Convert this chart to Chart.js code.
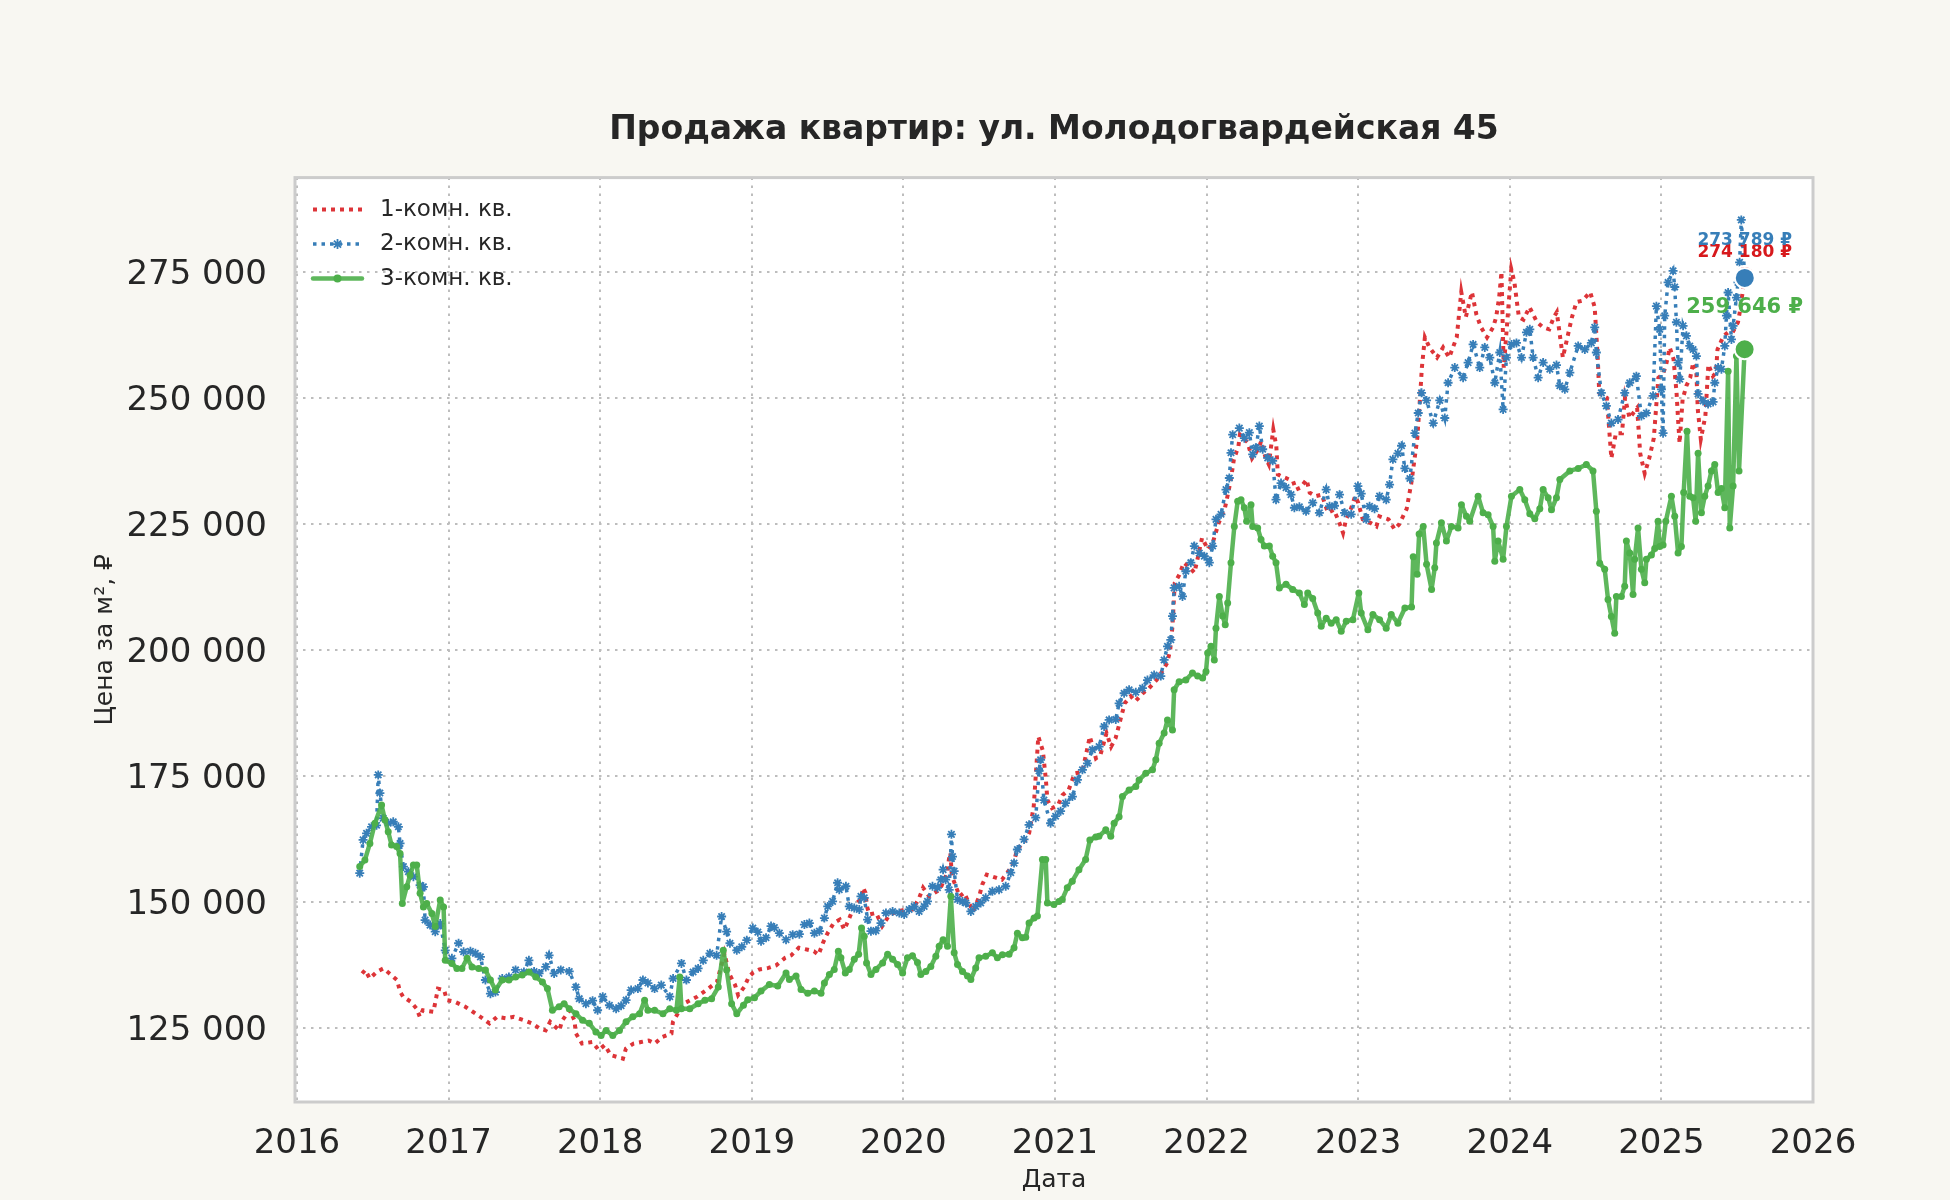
<!DOCTYPE html>
<html>
<head>
<meta charset="utf-8">
<script src="https://cdn.jsdelivr.net/npm/chart.js@4.4.1/dist/chart.umd.min.js"></script>
<style>
  html, body { margin: 0; padding: 0; background: #f8f7f2; }
  canvas { display: block; }
</style>
</head>
<body>
<canvas id="myChart" width="1950" height="1200"></canvas>
<script>
// 1-комн. кв. (годы / тыс. ₽ за м²)
const oneYears = [2016.43,2016.45,2016.48,2016.53,2016.57,2016.61,2016.66,2016.68,2016.70,2016.75,2016.79,2016.81,2016.83,2016.90,2016.93,2016.97,2016.99,
  2017.04,2017.11,2017.16,2017.21,2017.27,2017.32,2017.38,2017.43,2017.50,2017.55,2017.60,2017.64,2017.67,2017.73,2017.75,2017.80,2017.83,2017.84,2017.88,2017.95,2017.99,
  2018.03,2018.07,2018.15,2018.17,2018.22,2018.27,2018.32,2018.36,2018.41,2018.47,2018.48,2018.55,2018.64,2018.70,2018.77,2018.82,2018.85,2018.89,2018.91,2018.95,2018.98,
  2019.01,2019.05,2019.11,2019.16,2019.22,2019.26,2019.31,2019.37,2019.41,2019.44,2019.47,2019.50,2019.54,2019.58,2019.61,2019.64,2019.68,2019.72,2019.735,2019.75,2019.76,2019.775,2019.82,2019.86,2019.91,2019.96,
  2020.02,2020.06,2020.10,2020.13,2020.17,2020.19,2020.24,2020.29,2020.30,2020.31,2020.32,2020.35,2020.37,2020.40,2020.46,2020.50,2020.52,2020.55,2020.61,2020.65,2020.70,2020.73,2020.75,2020.79,2020.83,2020.86,
  2020.89,2020.92,2020.94,2020.95,2020.98,2021.02,2021.05,2021.09,2021.13,2021.18,2021.23,2021.27,2021.30,2021.34,2021.37,2021.40,2021.42,2021.46,2021.50,2021.53,2021.58,2021.62,2021.67,2021.70,2021.74,2021.76,2021.775,2021.79,
  2021.82,2021.85,2021.89,2021.92,2021.94,2021.97,2022.01,2022.04,2022.06,2022.08,2022.12,2022.14,2022.16,2022.18,2022.21,2022.22,2022.25,2022.27,2022.30,2022.34,2022.36,2022.39,2022.41,2022.44,2022.46,2022.47,2022.49,
  2022.57,2022.59,2022.62,2022.66,2022.68,2022.72,2022.76,2022.80,2022.84,2022.88,2022.90,2022.92,2022.95,2022.98,2023.00,2023.03,2023.08,2023.12,2023.14,2023.20,2023.24,2023.27,
  2023.32,2023.35,2023.39,2023.41,2023.42,2023.44,2023.47,2023.52,2023.56,2023.60,2023.65,2023.68,2023.71,2023.75,2023.78,2023.81,2023.85,2023.89,2023.91,2023.93,2023.945,2023.96,
  2024.01,2024.03,2024.06,2024.09,2024.13,2024.18,2024.22,2024.26,2024.29,2024.31,2024.35,2024.41,2024.44,2024.48,2024.53,2024.56,2024.58,2024.59,2024.64,2024.67,2024.70,2024.74,2024.76,2024.79,2024.84,2024.86,2024.89,2024.92,2024.95,2024.98,
  2025.01,2025.03,2025.055,2025.08,2025.10,2025.11,2025.12,2025.14,2025.165,2025.19,2025.21,2025.23,2025.24,2025.26,2025.29,2025.31,2025.34,2025.36,2025.37,2025.41,2025.44,2025.47,2025.505,2025.52,2025.55];
const oneVals = [135.8,136.5,134.8,136.2,136.8,135.8,134.5,132.2,131.2,130.2,128.8,127.2,128.5,128.2,132.8,132.5,130.5,
  130.2,129.2,128.2,127.2,125.9,127.2,126.9,127.2,126.5,125.9,124.9,124.5,126.2,124.5,126.5,128.5,126.5,123.9,121.9,122.2,120.6,
  121.6,119.6,118.9,120.9,121.9,122.2,122.5,121.9,123.2,123.9,126.2,129.8,131.2,132.5,134.1,139.8,135.8,133.5,131.5,133.1,135.1,
  136.0,136.6,136.9,137.4,138.9,139.4,140.9,140.5,140.2,139.5,141.9,143.8,145.8,146.5,144.5,146.5,149.5,150.5,152.8,151.8,149.1,147.5,147.8,145.2,147.5,148.1,
  148.5,148.5,150.5,152.8,151.1,151.5,152.4,155.8,158.4,159.7,155.1,152.8,151.1,151.8,148.1,151.1,153.4,155.4,154.8,154.4,156.4,158.1,160.4,161.7,163.7,169.0,
  182.8,180.0,174.2,170.2,168.6,169.2,171.2,172.2,175.5,175.8,182.8,178.5,179.2,183.5,180.8,182.5,184.8,189.4,190.8,189.8,191.4,192.4,194.0,195.4,197.4,200.0,204.7,213.3,
  214.9,217.3,216.3,215.3,218.0,222.2,219.9,221.2,223.2,225.2,228.0,230.8,233.8,237.8,240.4,242.7,241.8,241.2,238.0,239.8,241.4,238.0,236.8,243.7,240.4,234.8,234.5,
  233.5,231.8,232.2,233.8,231.2,230.5,230.8,227.2,227.8,224.9,223.2,225.9,227.8,230.5,229.2,225.9,225.2,224.5,226.5,225.9,223.9,224.9,
  228.0,233.0,242.0,251.0,256.0,262.0,260.0,258.0,260.0,258.0,262.0,271.0,266.0,271.0,266.5,264.0,262.0,264.0,266.0,270.0,275.0,256.0,
  275.5,273.0,266.0,265.5,268.0,265.0,264.0,263.6,266.0,267.0,258.0,266.0,269.0,269.3,271.0,268.0,258.0,251.0,250.0,238.0,243.0,243.0,250.0,246.0,248.0,239.0,235.0,238.0,242.0,254.0,
  254.7,256.4,260.0,257.7,251.0,245.7,241.0,249.7,252.4,254.0,257.0,255.7,247.7,241.8,246.4,256.6,254.3,255.0,259.6,262.3,263.0,263.0,265.0,267.5,274.18];

// 2-комн. кв.
const twoYears = [2016.414,2016.436,2016.459,2016.492,2016.525,2016.536,2016.547,2016.569,2016.602,2016.635,2016.669,2016.680,2016.702,2016.735,2016.768,2016.812,2016.834,2016.845,2016.878,2016.912,2016.945,2016.978,
  2017.022,2017.066,2017.099,2017.144,2017.177,2017.210,2017.243,2017.276,2017.309,2017.354,2017.398,2017.442,2017.497,2017.530,2017.564,2017.597,2017.641,2017.663,2017.696,2017.740,2017.796,2017.840,2017.862,2017.906,2017.950,2017.983,
  2018.017,2018.061,2018.105,2018.138,2018.171,2018.204,2018.249,2018.282,2018.315,2018.359,2018.403,2018.459,2018.481,2018.536,2018.569,2018.613,2018.646,2018.680,2018.724,2018.768,2018.801,2018.834,2018.856,2018.901,2018.934,2018.967,
  2019.007,2019.040,2019.061,2019.094,2019.127,2019.149,2019.182,2019.226,2019.270,2019.314,2019.347,2019.380,2019.413,2019.446,2019.479,2019.501,2019.533,2019.566,2019.577,2019.621,2019.643,2019.676,2019.709,2019.720,2019.742,2019.764,2019.786,2019.819,2019.852,2019.885,2019.929,2019.973,
  2020.005,2020.038,2020.071,2020.104,2020.137,2020.159,2020.192,2020.225,2020.247,2020.262,2020.279,2020.302,2020.317,2020.324,2020.335,2020.357,2020.390,2020.412,2020.445,2020.477,2020.510,2020.543,2020.587,2020.631,2020.675,2020.708,2020.730,2020.752,2020.796,2020.829,2020.873,2020.895,2020.905,2020.927,2020.971,
  2021.004,2021.037,2021.070,2021.115,2021.148,2021.181,2021.214,2021.247,2021.291,2021.324,2021.357,2021.401,2021.423,2021.456,2021.489,2021.533,2021.577,2021.610,2021.654,2021.698,2021.720,2021.742,2021.764,2021.775,2021.786,2021.819,2021.841,2021.863,2021.896,2021.919,2021.952,2021.985,
  2022.018,2022.040,2022.062,2022.095,2022.128,2022.150,2022.161,2022.172,2022.216,2022.249,2022.282,2022.304,2022.326,2022.348,2022.370,2022.403,2022.436,2022.458,2022.491,2022.524,2022.557,2022.579,2022.612,2022.656,2022.700,2022.744,2022.789,2022.811,2022.844,2022.877,2022.910,2022.954,2022.998,
  2023.020,2023.053,2023.075,2023.108,2023.141,2023.185,2023.207,2023.229,2023.262,2023.286,2023.308,2023.341,2023.374,2023.396,2023.418,2023.451,2023.495,2023.538,2023.571,2023.593,2023.637,2023.692,2023.725,2023.758,2023.802,2023.835,2023.868,2023.901,2023.934,2023.956,2023.978,
  2024.011,2024.044,2024.077,2024.110,2024.132,2024.154,2024.187,2024.220,2024.264,2024.308,2024.330,2024.363,2024.396,2024.451,2024.495,2024.538,2024.560,2024.571,2024.604,2024.637,2024.670,2024.714,2024.758,2024.791,2024.835,2024.868,2024.901,2024.945,2024.967,2024.989,
  2025.000,2025.011,2025.022,2025.044,2025.077,2025.088,2025.099,2025.110,2025.121,2025.143,2025.165,2025.187,2025.209,2025.231,2025.242,2025.275,2025.308,2025.341,2025.352,2025.374,2025.396,2025.418,2025.429,2025.440,2025.462,2025.473,2025.495,2025.505,2025.516,2025.527,2025.550];
const twoVals = [155.7,162.3,163.6,164.9,165.2,175.2,171.6,166.6,165.6,165.9,164.9,161.6,157.0,156.0,155.0,153.3,153.0,146.4,145.4,144.1,145.7,140.4,
  138.8,141.8,140.1,140.2,139.8,139.1,134.5,131.8,132.1,134.8,135.1,136.5,136.1,138.4,136.2,135.8,137.1,139.4,135.8,136.5,136.2,133.1,130.8,129.8,130.4,128.5,
  131.2,129.5,128.8,129.4,130.5,132.5,132.8,134.5,133.9,132.8,133.5,131.2,134.8,137.8,134.5,136.1,136.8,138.4,139.8,139.4,147.1,144.1,141.8,140.4,141.1,142.4,
  144.8,144.0,142.2,142.9,145.2,144.9,143.8,142.5,143.5,143.6,145.5,145.8,143.8,144.2,146.8,149.1,150.1,153.8,152.4,153.1,149.1,148.8,148.5,151.1,150.8,146.5,144.2,144.3,145.8,147.8,148.1,147.8,
  147.5,148.5,149.1,148.1,149.1,150.1,153.1,152.8,154.4,156.4,154.4,152.4,163.4,159.0,156.1,150.5,150.1,149.8,148.1,149.1,149.8,150.8,152.1,152.4,153.1,155.8,157.7,160.4,162.4,165.3,166.7,176.0,178.2,170.2,165.6,
  167.0,168.0,169.6,170.9,174.2,176.2,177.5,180.2,180.8,184.8,186.1,186.2,189.4,191.4,192.1,191.6,192.4,194.0,195.0,194.8,198.0,200.7,202.0,206.7,212.3,212.6,210.6,215.6,217.3,220.6,219.2,218.6,
  217.3,220.6,225.9,226.9,231.8,234.1,239.1,242.7,244.0,242.0,243.1,238.8,240.1,244.4,239.8,238.1,237.5,229.8,233.1,232.2,230.8,228.2,228.4,227.5,229.2,227.2,231.8,228.5,228.6,230.8,227.2,226.9,232.5,
  231.0,225.9,228.5,228.0,230.5,229.8,232.8,237.8,239.0,240.5,236.0,234.0,243.0,247.0,251.0,249.5,245.0,249.5,246.0,253.0,256.0,254.0,257.0,260.6,256.0,260.0,258.0,253.0,259.0,247.7,258.0,
  260.6,260.9,258.0,263.0,263.6,258.0,254.0,257.0,255.7,256.5,252.4,251.7,255.0,260.3,259.6,260.9,264.0,259.0,251.0,248.4,245.0,245.7,251.0,253.0,254.3,246.4,247.0,250.4,268.2,263.6,
  251.7,243.0,266.3,272.9,275.2,272.0,265.0,257.0,253.7,264.3,262.3,260.3,259.6,258.3,250.8,249.4,248.8,249.2,253.0,256.0,255.7,260.3,266.3,270.9,261.6,264.3,269.9,272.9,276.9,285.3,273.789];

// 3-комн. кв.
const threeYears = [2016.414,2016.448,2016.481,2016.514,2016.558,2016.580,2016.602,2016.624,2016.657,2016.680,2016.695,2016.724,2016.746,2016.768,2016.790,2016.812,2016.834,2016.856,2016.890,2016.912,2016.945,2016.967,2016.978,
  2017.022,2017.055,2017.088,2017.122,2017.155,2017.199,2017.243,2017.276,2017.309,2017.354,2017.398,2017.442,2017.486,2017.530,2017.575,2017.619,2017.652,2017.685,2017.729,2017.762,2017.796,2017.840,2017.884,2017.928,2017.972,
  2018.006,2018.039,2018.083,2018.127,2018.171,2018.215,2018.260,2018.293,2018.315,2018.359,2018.414,2018.459,2018.503,2018.525,2018.536,2018.591,2018.646,2018.691,2018.735,2018.779,2018.812,2018.834,2018.867,2018.901,2018.945,2018.974,
  2019.018,2019.061,2019.116,2019.171,2019.226,2019.248,2019.292,2019.325,2019.369,2019.413,2019.457,2019.479,2019.512,2019.544,2019.571,2019.588,2019.617,2019.643,2019.676,2019.705,2019.724,2019.742,2019.757,2019.786,2019.819,2019.863,2019.896,2019.929,2019.962,2019.995,
  2020.027,2020.060,2020.093,2020.115,2020.148,2020.181,2020.214,2020.236,2020.262,2020.291,2020.313,2020.335,2020.357,2020.390,2020.423,2020.445,2020.477,2020.499,2020.543,2020.587,2020.620,2020.653,2020.697,2020.730,2020.752,2020.785,2020.807,2020.829,2020.862,2020.884,2020.917,2020.939,2020.950,2020.993,
  2021.026,2021.048,2021.081,2021.114,2021.158,2021.202,2021.230,2021.269,2021.290,2021.335,2021.368,2021.390,2021.423,2021.445,2021.489,2021.533,2021.555,2021.599,2021.643,2021.665,2021.687,2021.720,2021.742,2021.775,2021.786,2021.819,2021.863,2021.907,2021.941,2021.974,2021.996,
  2022.007,2022.029,2022.051,2022.062,2022.084,2022.106,2022.123,2022.139,2022.161,2022.183,2022.205,2022.227,2022.249,2022.264,2022.293,2022.304,2022.337,2022.359,2022.381,2022.414,2022.436,2022.458,2022.480,2022.524,2022.568,2022.612,2022.645,2022.667,2022.700,2022.733,2022.756,2022.789,2022.822,2022.855,2022.888,2022.921,2022.965,
  2023.004,2023.020,2023.064,2023.097,2023.141,2023.185,2023.218,2023.262,2023.308,2023.352,2023.363,2023.389,2023.402,2023.429,2023.451,2023.484,2023.505,2023.516,2023.549,2023.582,2023.615,2023.659,2023.681,2023.714,2023.736,2023.791,2023.824,2023.857,2023.890,2023.901,2023.923,2023.956,2023.978,
  2024.011,2024.066,2024.099,2024.132,2024.165,2024.198,2024.220,2024.253,2024.275,2024.308,2024.330,2024.396,2024.451,2024.505,2024.549,2024.571,2024.593,2024.626,2024.648,2024.670,2024.692,2024.703,2024.736,2024.758,2024.769,2024.791,2024.813,2024.824,2024.846,2024.868,2024.890,2024.901,2024.934,2024.956,2024.978,2024.989,
  2025.011,2025.029,2025.066,2025.088,2025.110,2025.132,2025.147,2025.169,2025.187,2025.209,2025.226,2025.242,2025.264,2025.286,2025.308,2025.330,2025.352,2025.374,2025.396,2025.418,2025.440,2025.451,2025.473,2025.495,2025.512,2025.549];
const threeVals = [157.0,158.3,161.6,165.6,169.2,166.3,163.9,161.3,161.0,159.6,149.7,153.0,155.3,157.3,157.3,151.7,149.0,149.7,147.7,145.1,150.4,149.0,138.4,
  137.8,136.8,136.8,138.8,137.1,136.8,136.5,134.5,132.5,134.5,134.5,135.1,135.5,136.1,135.1,134.1,132.8,128.5,129.2,129.8,128.8,127.8,126.5,125.9,124.2,
  123.5,124.5,123.5,124.5,126.2,127.2,127.8,130.5,128.5,128.5,127.8,128.8,128.5,135.1,128.8,128.8,129.8,130.5,130.8,133.1,140.4,136.5,129.8,127.8,129.5,130.6,
  131.0,132.3,133.6,133.3,135.9,134.6,135.3,132.6,131.9,132.3,131.9,133.9,135.6,136.6,140.2,138.9,135.9,136.6,138.6,139.6,144.8,143.2,137.9,135.6,136.6,137.9,139.6,138.6,137.6,135.9,
  138.9,139.3,138.0,135.6,136.2,137.2,139.2,141.2,142.5,141.2,151.1,139.9,137.6,136.2,135.3,134.6,136.9,138.9,139.2,139.9,138.9,139.5,139.6,140.9,143.8,142.9,143.0,145.8,146.8,147.2,158.4,158.4,149.8,149.5,
  150.1,150.5,152.8,154.1,156.4,158.4,162.3,162.9,163.0,164.3,163.0,165.6,166.9,170.9,172.2,172.9,174.2,175.5,176.2,178.2,181.5,183.5,186.1,184.1,192.1,193.7,194.0,195.4,194.8,194.4,195.7,
  199.4,200.7,198.0,204.3,210.6,206.7,205.0,209.3,217.3,224.5,229.5,229.8,228.2,225.5,228.8,224.5,224.2,221.9,220.6,220.6,218.6,217.3,212.3,213.0,212.0,211.3,209.0,211.3,210.2,207.3,204.7,206.3,205.3,206.0,203.7,205.7,206.0,
  211.3,207.3,204.0,207.0,206.0,204.3,207.0,205.3,208.3,208.5,218.5,215.0,223.0,224.5,217.0,212.0,216.3,221.2,225.2,221.6,224.5,224.2,228.8,226.5,225.5,230.5,227.2,226.8,224.5,217.6,221.6,218.0,224.5,
  230.5,231.8,229.8,227.0,226.0,228.0,231.8,230.2,227.8,230.2,233.8,235.5,236.0,236.8,235.5,227.5,217.2,216.0,210.0,206.6,203.3,210.6,210.6,212.6,221.6,219.2,211.0,218.0,224.2,216.0,213.3,218.0,218.8,220.1,225.5,220.5,
  220.8,225.5,230.5,226.5,219.2,220.5,231.2,243.4,230.5,230.2,225.5,239.0,227.2,230.5,232.5,235.5,236.8,231.2,232.0,228.2,255.3,224.2,232.5,258.3,235.5,259.646];

const seriesNames = ['1-комн. кв.', '2-комн. кв.', '3-комн. кв.'];
const xTicks = [2016, 2017, 2018, 2019, 2020, 2021, 2022, 2023, 2024, 2025, 2026];
const yTicks = [125000, 150000, 175000, 200000, 225000, 250000, 275000];

const RED = 'rgb(221, 52, 56)';
const BLUE = 'rgb(55, 126, 184)';
const GREEN = 'rgb(77, 175, 74)';

function toPoints(xs, vs) {
  return xs.map((x, i) => ({ x: x, y: vs[i] * 1000 }));
}

function fmt(v) {
  return String(Math.round(v)).replace(/\B(?=(\d{3})+(?!\d))/g, ' ');
}

Chart.defaults.font.family = '"DejaVu Sans", "Noto Sans", sans-serif';
Chart.defaults.color = '#262626';

const backdrop = {
  id: 'backdrop',
  beforeDraw(chart) {
    const { ctx, chartArea: a } = chart;
    ctx.save();
    ctx.fillStyle = '#f8f7f2';
    ctx.fillRect(0, 0, chart.width, chart.height);
    ctx.fillStyle = '#ffffff';
    ctx.fillRect(a.left, a.top, a.right - a.left, a.bottom - a.top);
    ctx.restore();
  },
  afterDraw(chart) {
    const { ctx, chartArea: a } = chart;
    ctx.save();
    ctx.strokeStyle = '#cccccc';
    ctx.lineWidth = 3;
    ctx.strokeRect(a.left, a.top, a.right - a.left, a.bottom - a.top);
    ctx.restore();
  }
};

// legend in the upper left corner of the plot, line + marker samples
const cornerLegend = {
  id: 'cornerLegend',
  afterDatasetsDraw(chart) {
    const { ctx, chartArea: a } = chart;
    ctx.save();
    chart.data.datasets.forEach((ds, i) => {
      const y = a.top + 32 + i * 34.5;
      const x0 = a.left + 18, x1 = a.left + 67;
      ctx.beginPath();
      ctx.setLineDash(ds.borderDash || []);
      ctx.lineWidth = ds.borderWidth;
      ctx.strokeStyle = ds.borderColor;
      ctx.lineCap = ds.borderDash ? 'butt' : 'round';
      ctx.moveTo(x0, y);
      ctx.lineTo(x1, y);
      ctx.stroke();
      ctx.setLineDash([]);
      if (ds.pointRadius > 0) {
        ctx.fillStyle = ds.backgroundColor;
        ctx.strokeStyle = ds.pointBorderColor || ds.backgroundColor;
        ctx.lineWidth = ds.pointBorderWidth || 0;
        Chart.helpers.drawPoint(ctx, {
          pointStyle: ds.pointStyle || 'circle',
          radius: ds.pointRadius + 0.5,
          borderWidth: ds.pointBorderWidth || 0
        }, (x0 + x1) / 2, y);
      }
      ctx.font = '23px "DejaVu Sans", sans-serif';
      ctx.fillStyle = '#262626';
      ctx.textAlign = 'left';
      ctx.textBaseline = 'middle';
      ctx.fillText(ds.label, a.left + 85, y);
    });
    ctx.restore();
  }
};

// last value of each series: big dot + caption
const endStyles = [
  { color: 'rgb(215, 25, 28)', dy: -23, size: 17 },
  { color: BLUE, dy: -37, size: 17 },
  { color: GREEN, dy: -42, size: 21 }
];

const endMarks = {
  id: 'endMarks',
  afterDatasetsDraw(chart) {
    const ctx = chart.ctx;
    const xs = chart.scales.x, ys = chart.scales.y;
    const ends = chart.data.datasets.map(ds => ds.data[ds.data.length - 1]);
    ctx.save();
    ends.forEach((p, i) => {
      const px = xs.getPixelForValue(p.x), py = ys.getPixelForValue(p.y);
      ctx.beginPath();
      ctx.arc(px, py, 10, 0, Math.PI * 2);
      ctx.fillStyle = endStyles[i].color;
      ctx.fill();
      ctx.lineWidth = 2;
      ctx.strokeStyle = '#ffffff';
      ctx.stroke();
    });
    ends.forEach((p, i) => {
      const s = endStyles[i];
      const px = xs.getPixelForValue(p.x), py = ys.getPixelForValue(p.y);
      ctx.font = 'bold ' + s.size + 'px "DejaVu Sans", sans-serif';
      ctx.fillStyle = s.color;
      ctx.textAlign = 'center';
      ctx.textBaseline = 'middle';
      ctx.fillText(fmt(p.y) + ' ₽', px, py + s.dy);
    });
    ctx.restore();
  }
};

const myChart = new Chart(document.getElementById('myChart').getContext('2d'), {
  type: 'line',
  data: {
    datasets: [{
      label: seriesNames[0],
      data: toPoints(oneYears, oneVals),
      borderColor: RED,
      backgroundColor: RED,
      borderWidth: 4,
      borderDash: [4, 5],
      pointRadius: 0,
      tension: 0,
      order: 3
    }, {
      label: seriesNames[1],
      data: toPoints(twoYears, twoVals),
      borderColor: BLUE,
      backgroundColor: BLUE,
      borderWidth: 3.5,
      borderDash: [3.5, 5],
      pointStyle: 'star',
      pointRadius: 4.5,
      pointBorderWidth: 1.8,
      pointBorderColor: BLUE,
      tension: 0,
      order: 2
    }, {
      label: seriesNames[2],
      data: toPoints(threeYears, threeVals),
      borderColor: 'rgba(77, 175, 74, 0.9)',
      backgroundColor: GREEN,
      borderWidth: 4.5,
      borderJoinStyle: 'round',
      borderCapStyle: 'round',
      pointRadius: 3.5,
      pointBorderWidth: 0,
      pointBackgroundColor: GREEN,
      tension: 0,
      order: 1
    }]
  },
  options: {
    responsive: false,
    devicePixelRatio: 1,
    animation: false,
    events: [],
    layout: { padding: { left: 0, right: 137, top: 0, bottom: 0 } },
    scales: {
      x: {
        type: 'linear',
        min: 2015.987,
        max: 2026,
        afterBuildTicks: s => { s.ticks = xTicks.map(v => ({ value: v })); },
        afterFit: s => { s.height = 98; },
        ticks: { padding: 22, font: { size: 34 }, callback: v => String(v) },
        grid: { color: '#bdbdbd', lineWidth: 2, drawTicks: false },
        border: { display: false, dash: [2.5, 5.5] },
        title: { display: true, text: 'Дата', font: { size: 25 }, padding: { top: 0, bottom: 5 } }
      },
      y: {
        min: 110300,
        max: 293700,
        afterBuildTicks: s => { s.ticks = yTicks.map(v => ({ value: v })); },
        afterFit: s => { s.width = 295; },
        ticks: { padding: 28, labelOffset: 3, font: { size: 34 }, callback: v => fmt(v) },
        grid: { color: '#bdbdbd', lineWidth: 2, drawTicks: false },
        border: { display: false, dash: [2.5, 5.5] },
        title: { display: true, text: 'Цена за м², ₽', font: { size: 25 }, padding: { top: 90, bottom: 0 } }
      }
    },
    plugins: {
      title: {
        display: true,
        text: 'Продажа квартир: ул. Молодогвардейская 45',
        fullSize: false,
        font: { size: 33, weight: 'bold' },
        color: '#262626',
        padding: { top: 111, bottom: 27 }
      },
      legend: { display: false },
      tooltip: { enabled: false }
    }
  },
  plugins: [backdrop, endMarks, cornerLegend]
});
</script>
</body>
</html>
